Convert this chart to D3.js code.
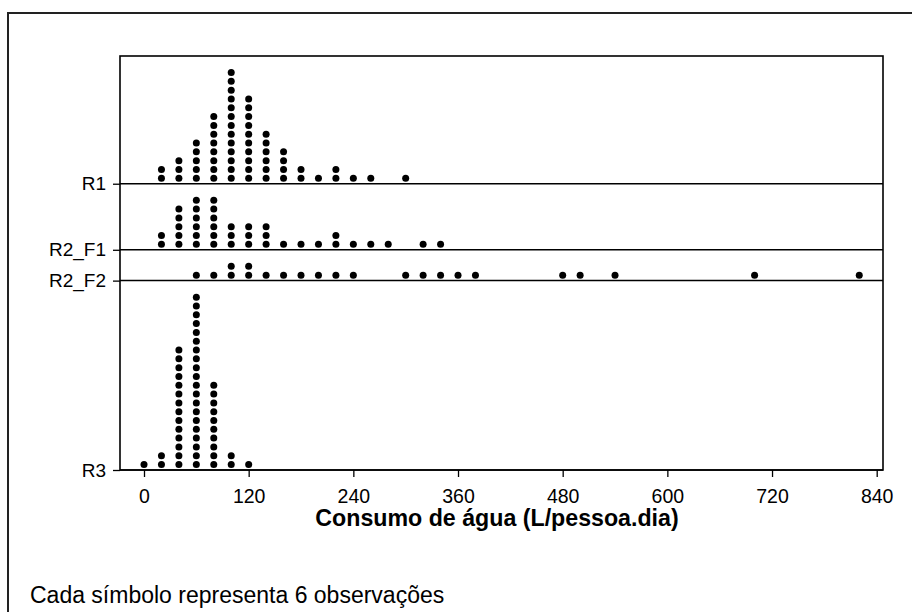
<!DOCTYPE html>
<html>
<head>
<meta charset="utf-8">
<script src="https://cdn.jsdelivr.net/npm/d3@7"></script>
<style>
  body{margin:0;background:#fff;}
  text{font-family:"Liberation Sans",Arial,sans-serif;fill:#000;}
</style>
</head>
<body>
<svg width="912" height="612"></svg>
<script>
// rows from top to bottom
const rows=['R1','R2_F1','R2_F2','R3'];
// dot columns: value (L/pessoa.dia) and number of symbols stacked
const r1Values=[20,40,60,80,100,120,140,160,180,200,220,240,260,300];
const r1Counts=[2,3,5,8,13,10,6,4,2,1,2,1,1,1];
const r2f1Values=[20,40,60,80,100,120,140,160,180,200,220,240,260,280,320,340];
const r2f1Counts=[2,5,6,6,3,3,3,1,1,1,2,1,1,1,1,1];
const r2f2Values=[60,80,100,120,140,160,180,200,220,240,300,320,340,360,380,480,500,540,700,820];
const r2f2Counts=[1,1,2,2,1,1,1,1,1,1,1,1,1,1,1,1,1,1,1,1];
const r3Values=[0,20,40,60,80,100,120];
const r3Counts=[1,2,14,20,10,2,1];
const xTicks=[0,120,240,360,480,600,720,840];

const series={
  'R1':[r1Values,r1Counts],
  'R2_F1':[r2f1Values,r2f1Counts],
  'R2_F2':[r2f2Values,r2f2Counts],
  'R3':[r3Values,r3Counts]
};

const svg=d3.select('svg');
const box={left:120,right:883,top:56,bottom:470};
const pad=1.5; // empty space above each row, in symbol units

// stack rows from the bottom: each row gets its tallest column + pad
let base={},acc=0;
rows.slice().reverse().forEach(r=>{
  base[r]=acc;
  acc+=d3.max(series[r][1])+pad;
});

const x=d3.scaleLinear().domain([0,840]).range([144,876.7]);
const y=d3.scaleLinear().domain([0,acc]).range([box.bottom,box.top]);
const yRow=d3.scaleOrdinal().domain(rows).range(rows.map(r=>y(base[r])));

// outer frame (runs off the page on the right and bottom)
svg.append('rect')
   .attr('x',8).attr('y',13)
   .attr('width',1000).attr('height',700)
   .attr('fill','none').attr('stroke','#222').attr('stroke-width',2);

// one line per row
svg.selectAll('line.row')
   .data(rows)
   .enter().append('line')
   .attr('class','row')
   .attr('x1',box.left).attr('x2',box.right)
   .attr('y1',d=>yRow(d)).attr('y2',d=>yRow(d))
   .attr('stroke','#000').attr('stroke-width',1.5);

// plot box
svg.append('rect')
   .attr('x',box.left).attr('y',box.top)
   .attr('width',box.right-box.left).attr('height',box.bottom-box.top)
   .attr('fill','none').attr('stroke','#000').attr('stroke-width',1.6);

// dots
let dots=[];
rows.forEach(r=>{
  const [vals,cnts]=series[r];
  vals.forEach((v,i)=>{
    for(let k=0;k<cnts[i];k++) dots.push({row:r,value:v,k:k});
  });
});
svg.selectAll('circle')
   .data(dots)
   .enter().append('circle')
   .attr('cx',d=>x(d.value))
   .attr('cy',d=>y(base[d.row]+d.k+0.62))
   .attr('r',3.5)
   .attr('fill','#000');

// x axis
const xAxis=svg.append('g')
   .attr('transform',`translate(0,${box.bottom})`)
   .call(d3.axisBottom(x).tickValues(xTicks).tickSize(7).tickPadding(12).tickFormat(d3.format('d')));
xAxis.select('.domain').remove();
xAxis.selectAll('line').attr('stroke','#000').attr('stroke-width',1.3);
xAxis.selectAll('text').attr('font-size',19.5).attr('font-family','"Liberation Sans",Arial,sans-serif').attr('fill','#000');

// y axis (row labels)
const yAxis=svg.append('g')
   .attr('transform',`translate(${box.left},0)`)
   .call(d3.axisLeft(yRow).tickSize(7).tickPadding(7));
yAxis.select('.domain').remove();
yAxis.selectAll('line').attr('stroke','#000').attr('stroke-width',1.3);
yAxis.selectAll('text').attr('font-size',19).attr('font-family','"Liberation Sans",Arial,sans-serif').attr('fill','#000');

// axis title
svg.append('text')
   .attr('x',497).attr('y',526)
   .attr('text-anchor','middle')
   .attr('font-size',23.2).attr('font-weight','bold')
   .text('Consumo de água (L/pessoa.dia)');

// footnote
svg.append('text')
   .attr('x',30).attr('y',603)
   .attr('font-size',23)
   .text('Cada símbolo representa 6 observações');
</script>
</body>
</html>
